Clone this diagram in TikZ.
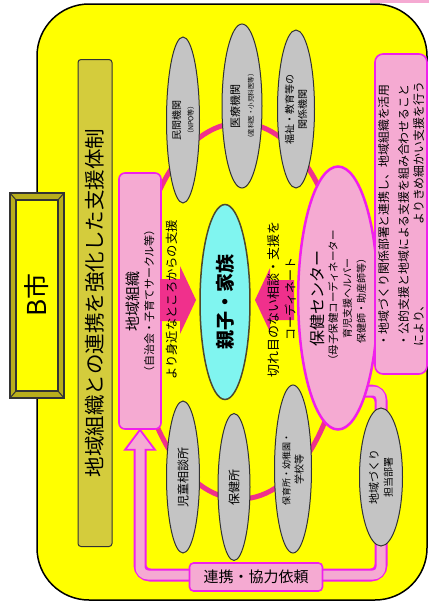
\documentclass[tikz,border=0pt]{standalone}
\usepackage{fontspec}
\setmainfont{Noto Sans CJK JP}
\usetikzlibrary{shapes.geometric}

\definecolor{kiiro}{HTML}{FFFF00}
\definecolor{olive1}{HTML}{D4CC3C}
\definecolor{olive2}{HTML}{B8AE1C}
\definecolor{momo}{HTML}{F5AAD2}
\definecolor{aka}{HTML}{F020EC}
\definecolor{koi}{HTML}{F0308C}
\definecolor{mizu}{HTML}{80F5F0}
\definecolor{hai}{HTML}{C4C4C4}
\newcommand{\fsz}[2]{\fontsize{#1}{#2}\selectfont}

\begin{document}
\begin{tikzpicture}
	[x=1pt,y=-1pt,
	kikan/.style={ellipse, draw=black!80, fill=hai, line width=1pt, rotate=90, inner sep=0pt, align=center},
	pinkbox/.style={rectangle, rounded corners=6pt, draw=aka, fill=momo, line width=1.6pt, inner sep=0pt, align=center},
	tate/.style={rotate=90, inner sep=0pt, align=center}]
	\useasboundingbox (0,0) rectangle (429,606);
	\fill[momo] (370,0) rectangle (429,2.5);
	\draw[fill=kiiro, line width=1.5pt, rounded corners=52pt] (37,4) rectangle (427,600);
	
	% B shi
	\filldraw[fill=olive2, draw=black!80, line width=1.5pt] (10,193) rectangle (64,398);
	\filldraw[fill=kiiro, draw=black!80, line width=1.2pt] (16,200) rectangle (58,391);
	\draw[black!80, line width=1pt] (10,193) -- (16,200) (64,193) -- (58,200) (10,398) -- (16,391) (64,398) -- (58,391);
	\node[tate] (bshi) at (37,295) {\fsz{26}{30}B市};
	\node[tate, rectangle, draw=black!80, fill=olive1, line width=1pt, rounded corners=3pt, minimum width=487pt, minimum height=34pt] (taisei) at (95,303) {\fsz{20.5}{24}地域組織との連携を強化した支援体制};
	
	\draw[koi, line width=5pt] (240,311) ellipse [x radius=105, y radius=188];
	\node[pinkbox, rotate=90, minimum width=256pt, minimum height=42pt] (soshiki) at (140,301) {\fsz{15}{18}地域組織\\[3pt]\fsz{11}{18}（自治会・子育てサークル等）};
	
	% arrows to the family
	\fill[koi] (160,279) -- (180,279) -- (180,266) -- (196,300) -- (180,334) -- (180,321) -- (160,321) -- cycle;
	\fill[koi] (294,280) -- (270,280) -- (270,268) -- (255,300) -- (270,332) -- (270,320) -- (294,320) -- cycle;
	\node[ellipse, rotate=90, draw=black!60!olive, fill=mizu, line width=1.5pt, minimum width=195pt, minimum height=50pt, inner sep=0pt] (oyako) at (225,302) {\fsz{19}{22}\bfseries 親子・家族};
	\node[tate] (mijika) at (172,300) {\fsz{12.3}{15}より身近なところからの支援};
	\node[tate] (kireme) at (282,299) {\fsz{13}{19}切れ目のない相談・支援を\\[4pt]\fsz{12}{19}コーディネート};
	
	% renkei line
	\coordinate (hk) at (355,391);
	\draw[aka, line width=13pt, rounded corners=10pt] (hk) -| (381,575) -| ([yshift=-20pt]soshiki.west);
	\filldraw[fill=momo, draw=aka, line width=1.8pt] ([xshift=-15pt,yshift=-20pt]soshiki.west) -- (soshiki.west) -- ([xshift=15pt,yshift=-20pt]soshiki.west) -- cycle;
	\draw[momo, line width=9pt, rounded corners=8pt] (hk) -| (381,575) -| ([yshift=-17pt]soshiki.west);
	\node[pinkbox, rounded corners=4pt, minimum width=133pt, minimum height=28pt] (irai) at (256,577) {\fsz{15}{18}連携・協力依頼};
	
	\node[kikan, minimum width=166pt, minimum height=33pt] (minkan) at (183,120) {\fsz{10}{16}民間機関\\[1pt]\fsz{7}{16}（NPO等）};
	\node[kikan, minimum width=164pt, minimum height=40pt] (iryo) at (242,106) {\fsz{11}{17}医療機関\\[2pt]\fsz{6.5}{17}（産科医・小児科医等）};
	\node[kikan, minimum width=158pt, minimum height=37pt] (fukushi) at (296,109) {\fsz{10}{15}福祉・教育等の\\[1pt]関係機関};
	\node[kikan, minimum width=152pt, minimum height=33pt] (jido) at (183,477) {\fsz{12}{15}児童相談所};
	\node[kikan, minimum width=147pt, minimum height=32pt] (hokenjo) at (234,487) {\fsz{12}{15}保健所};
	\node[kikan, minimum width=168pt, minimum height=37pt] (hoiku) at (293,469) {\fsz{9}{12}保育所・幼稚園・\\[1pt]学校等};
	\node[kikan, minimum width=138pt, minimum height=43pt] (dukuri) at (381,477) {\fsz{11}{16}地域づくり\\[2pt]担当部署};
	
	\node[ellipse, rotate=90, draw=aka, fill=momo, line width=2.5pt, minimum width=263pt, minimum height=69pt, inner sep=0pt, align=center] (hoken) at (338,298) {\fsz{16}{15}保健センター\\[2pt]\fsz{10.5}{14}（母子保健コーディネーター\\[2pt]育児支援ヘルパー\\[2pt]保健師・助産師等）};
	\node[pinkbox, rotate=90, rounded corners=8pt, minimum width=320pt, minimum height=52pt, align=left, text width=264pt] (hoshin) at (401,214) {\fsz{11.9}{17}・地域づくり関係部署と連携し、地域組織を活用\\[3pt]・公的支援と地域による支援を組み合わせること\\[3pt]により、\hskip 0pt plus 1fill よりきめ細かい支援を行う};
\end{tikzpicture}
\end{document}
